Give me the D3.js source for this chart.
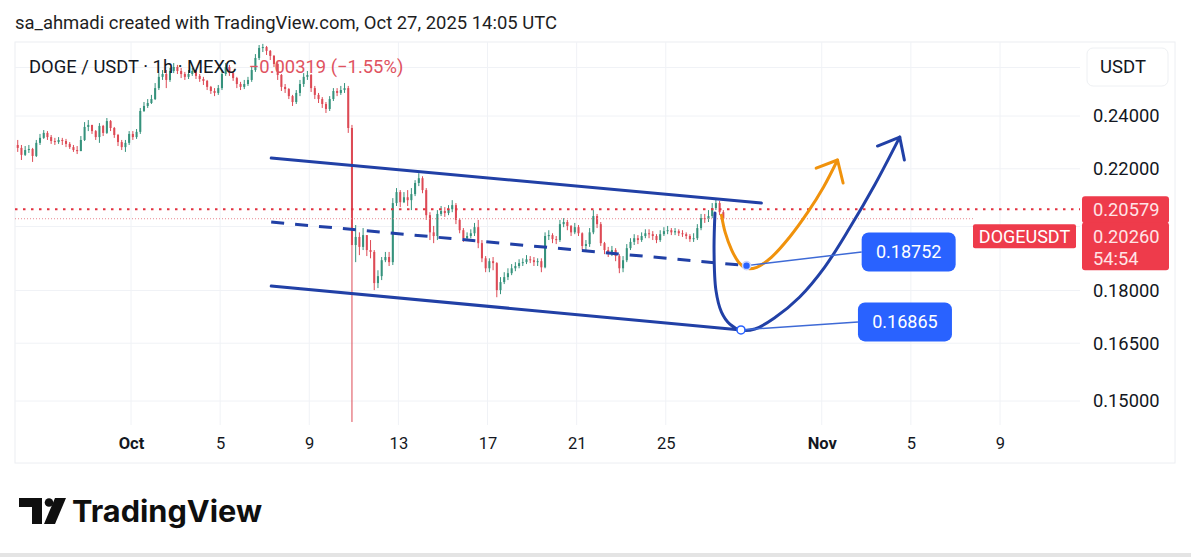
<!DOCTYPE html>
<html>
<head>
<meta charset="utf-8">
<script src="https://cdn.jsdelivr.net/npm/d3@7"></script>
<style>
  body { margin: 0; background: #fff; }
  text { font-family: Roboto, "Noto Sans", sans-serif; }
</style>
</head>
<body>
<svg id="chart"></svg>
<script>
const firstTime = '2025-09-25T20:00:00Z'
const firstOpen = 0.2288
const closes = [
  0.2277,
  0.2251, 0.2269, 0.2273, 0.2247, 0.2296, 0.2315, // Sep 26
  0.2334, 0.2318, 0.2303, 0.2299, 0.2307, 0.2303,
  0.2292, 0.2280, 0.2269, 0.2265, 0.2307, 0.2357,
  0.2365, 0.2341, 0.2318, 0.2361, 0.2334, 0.2380,
  0.2353, 0.2326, 0.2299, 0.2280, 0.2296, 0.2330, // Sep 30
  0.2318, 0.2338, 0.2420, 0.2440, 0.2452, 0.2468, // Oct 1
  0.2513, 0.2560, 0.2572, 0.2547, 0.2585, 0.2602,
  0.2585, 0.2572, 0.2560, 0.2572, 0.2585, 0.2564,
  0.2551, 0.2543, 0.2518, 0.2501, 0.2493, 0.2513,
  0.2572, 0.2602, 0.2576, 0.2555, 0.2530, 0.2518, // Oct 5
  0.2530, 0.2547, 0.2589, 0.2641, 0.2685, 0.2689,
  0.2672, 0.2650, 0.2615, 0.2568, 0.2518, 0.2509,
  0.2480, 0.2456, 0.2493, 0.2530, 0.2560, 0.2568,
  0.2513, 0.2485, 0.2468, 0.2448, 0.2428, 0.2468,
  0.2501, 0.2493, 0.2505, 0.2513, 0.2353, 0.1940, // Oct 10 crash
  0.1966, 0.1934, 0.1972, 0.1924, 0.1918, 0.1822,
  0.1843, 0.1892, 0.1902, 0.1886, 0.2079, 0.2117,
  0.2082, 0.2099, 0.2089, 0.2110, 0.2149, 0.2166,
  0.2124, 0.2038, 0.1981, 0.1969, 0.2042, 0.2052,
  0.2045, 0.2058, 0.2072, 0.2022, 0.1988, 0.1962, // Oct 15
  0.1969, 0.1978, 0.1998, 0.1946, 0.1898, 0.1867,
  0.1889, 0.1883, 0.1801, 0.1825, 0.1840, 0.1852,
  0.1867, 0.1874, 0.1883, 0.1886, 0.1895, 0.1892,
  0.1886, 0.1889, 0.1870, 0.1969, 0.1972, 0.1959,
  0.1956, 0.2008, 0.2015, 0.2002, 0.1981, 0.1998, // Oct 20
  0.1978, 0.1937, 0.1943, 0.1981, 0.2035, 0.2008,
  0.1946, 0.1924, 0.1914, 0.1924, 0.1905, 0.1867,
  0.1892, 0.1930, 0.1950, 0.1962, 0.1956, 0.1969,
  0.1978, 0.1975, 0.1969, 0.1956, 0.1975, 0.1985,
  0.1988, 0.1981, 0.1985, 0.1978, 0.1975, 0.1969, // Oct 25
  0.1959, 0.1962, 0.1995, 0.2028, 0.2025, 0.2035,
  0.2062, 0.2079, 0.2048, 0.2026
]
const highs = [
  0.2307,
  0.2288, 0.2284, 0.2288, 0.2277, 0.2307, 0.2330,
  0.2345, 0.2341, 0.2326, 0.2315, 0.2318, 0.2315,
  0.2311, 0.2299, 0.2288, 0.2284, 0.2322, 0.2376,
  0.2384, 0.2365, 0.2345, 0.2372, 0.2365, 0.2392,
  0.2384, 0.2357, 0.2330, 0.2307, 0.2307, 0.2341,
  0.2341, 0.2349, 0.2432, 0.2456, 0.2468, 0.2485,
  0.2534, 0.2576, 0.2589, 0.2589, 0.2598, 0.2619,
  0.2611, 0.2598, 0.2581, 0.2589, 0.2598, 0.2589,
  0.2572, 0.2560, 0.2547, 0.2522, 0.2513, 0.2526,
  0.2589, 0.2619, 0.2611, 0.2581, 0.2560, 0.2539,
  0.2547, 0.2560, 0.2602, 0.2658, 0.2698, 0.2703,
  0.2694, 0.2676, 0.2654, 0.2623, 0.2572, 0.2530,
  0.2513, 0.2485, 0.2505, 0.2547, 0.2576, 0.2585,
  0.2572, 0.2522, 0.2493, 0.2476, 0.2456, 0.2480,
  0.2513, 0.2513, 0.2522, 0.2534, 0.2522, 0.2365,
  0.2005, 0.1981, 0.1995, 0.1972, 0.1956, 0.1924,
  0.1861, 0.1902, 0.1918, 0.1918, 0.2096, 0.2131,
  0.2124, 0.2117, 0.2124, 0.2131, 0.2159, 0.2184,
  0.2173, 0.2131, 0.2048, 0.2002, 0.2055, 0.2069,
  0.2065, 0.2072, 0.2089, 0.2079, 0.2028, 0.1995,
  0.1981, 0.1991, 0.2012, 0.2022, 0.1956, 0.1905,
  0.1898, 0.1902, 0.1886, 0.1840, 0.1855, 0.1867,
  0.1880, 0.1886, 0.1895, 0.1898, 0.1908, 0.1905,
  0.1902, 0.1898, 0.1898, 0.1981, 0.1988, 0.1978,
  0.1969, 0.2022, 0.2028, 0.2022, 0.2005, 0.2012,
  0.2005, 0.1981, 0.1956, 0.1995, 0.2055, 0.2042,
  0.2015, 0.1950, 0.1934, 0.1937, 0.1930, 0.1911,
  0.1905, 0.1943, 0.1962, 0.1975, 0.1972, 0.1981,
  0.1991, 0.1991, 0.1985, 0.1975, 0.1988, 0.1998,
  0.2002, 0.1995, 0.1995, 0.1991, 0.1988, 0.1981,
  0.1975, 0.1978, 0.2008, 0.2042, 0.2042, 0.2055,
  0.2079, 0.2092, 0.2086, 0.2055
]
const lows = [
  0.2262,
  0.2232, 0.2247, 0.2258, 0.2225, 0.2243, 0.2288,
  0.2311, 0.2307, 0.2292, 0.2288, 0.2292, 0.2288,
  0.2280, 0.2273, 0.2262, 0.2254, 0.2269, 0.2303,
  0.2341, 0.2330, 0.2307, 0.2296, 0.2322, 0.2330,
  0.2341, 0.2315, 0.2284, 0.2269, 0.2262, 0.2288,
  0.2307, 0.2311, 0.2330, 0.2416, 0.2432, 0.2448,
  0.2464, 0.2505, 0.2547, 0.2513, 0.2539, 0.2576,
  0.2572, 0.2555, 0.2547, 0.2551, 0.2564, 0.2551,
  0.2539, 0.2526, 0.2505, 0.2489, 0.2480, 0.2485,
  0.2505, 0.2564, 0.2564, 0.2543, 0.2513, 0.2505,
  0.2509, 0.2522, 0.2539, 0.2581, 0.2632, 0.2667,
  0.2654, 0.2632, 0.2602, 0.2547, 0.2501, 0.2493,
  0.2468, 0.2440, 0.2448, 0.2480, 0.2518, 0.2547,
  0.2497, 0.2468, 0.2452, 0.2432, 0.2412, 0.2420,
  0.2460, 0.2480, 0.2485, 0.2493, 0.2334, 0.1449,
  0.1886, 0.1908, 0.1924, 0.1905, 0.1898, 0.1801,
  0.1807, 0.1831, 0.1886, 0.1874, 0.1877, 0.2069,
  0.2065, 0.2079, 0.2069, 0.2055, 0.2103, 0.2138,
  0.2113, 0.2022, 0.1956, 0.1946, 0.1956, 0.2035,
  0.2032, 0.2038, 0.2048, 0.2008, 0.1978, 0.1950,
  0.1953, 0.1962, 0.1969, 0.1930, 0.1886, 0.1855,
  0.1855, 0.1861, 0.1780, 0.1789, 0.1819, 0.1831,
  0.1846, 0.1858, 0.1867, 0.1874, 0.1880, 0.1883,
  0.1874, 0.1874, 0.1855, 0.1867, 0.1956, 0.1946,
  0.1943, 0.1950, 0.1998, 0.1988, 0.1969, 0.1975,
  0.1969, 0.1924, 0.1924, 0.1934, 0.1975, 0.1995,
  0.1937, 0.1911, 0.1902, 0.1905, 0.1889, 0.1852,
  0.1855, 0.1886, 0.1924, 0.1940, 0.1943, 0.1950,
  0.1962, 0.1962, 0.1956, 0.1946, 0.1950, 0.1969,
  0.1975, 0.1972, 0.1972, 0.1969, 0.1966, 0.1959,
  0.1950, 0.1950, 0.1956, 0.1988, 0.2012, 0.2015,
  0.2028, 0.2055, 0.2038, 0.2022
]

const timeTicks = ['2025-10-01', '2025-10-05', '2025-10-09', '2025-10-13', '2025-10-17', '2025-10-21', '2025-10-25', '2025-11-01', '2025-11-05', '2025-11-09']
const timeTickLabels = ['Oct', '5', '9', '13', '17', '21', '25', 'Nov', '5', '9']
const priceTicks = [0.24, 0.22, 0.18, 0.165, 0.15]
const priceGrid = [0.26, 0.24, 0.22, 0.20, 0.18, 0.165, 0.15]

const headerText = 'sa_ahmadi created with TradingView.com, Oct 27, 2025 14:05 UTC'
const symbolText = 'DOGE / USDT · 1h · MEXC'
const changeText = '\u22120.00319 (\u22121.55%)'
const refPrice = 0.20579
const lastPrice = 0.20260
const countdown = '54:54'

// drawings on the chart: [time, price]
const channelTop = [['2025-10-07T07:00Z', 0.2239], ['2025-10-29T07:00Z', 0.2079]]
const channelBottom = [['2025-10-07T07:00Z', 0.1813], ['2025-10-28T09:00Z', 0.16865]]
const channelMid = [['2025-10-07T07:00Z', 0.2015], ['2025-10-28T15:00Z', 0.18752]]
const orangeRoute = [
  ['2025-10-27T12:00Z', 0.2038], ['2025-10-27T16:00Z', 0.1981], ['2025-10-27T23:00Z', 0.1924],
  ['2025-10-28T06:30Z', 0.1886], ['2025-10-28T15:00Z', 0.1867], ['2025-10-29T02:00Z', 0.1870],
  ['2025-10-29T18:00Z', 0.1902], ['2025-10-30T13:30Z', 0.1966], ['2025-10-31T09:00Z', 0.2048],
  ['2025-11-01T02:00Z', 0.2135], ['2025-11-01T17:00Z', 0.2232]
]
const orangeHead = [['2025-10-31T18:00Z', 0.2202], ['2025-11-01T17:00Z', 0.2232], ['2025-11-01T23:00Z', 0.2149]]
const blueRoute = [
  ['2025-10-27T05:00Z', 0.2045], ['2025-10-27T04:00Z', 0.1924], ['2025-10-27T06:00Z', 0.1801],
  ['2025-10-27T12:00Z', 0.1737], ['2025-10-27T21:00Z', 0.1703], ['2025-10-28T09:00Z', 0.1686],
  ['2025-10-29T00:00Z', 0.1689], ['2025-10-29T21:00Z', 0.1720], ['2025-10-31T00:00Z', 0.1780],
  ['2025-11-01T03:00Z', 0.1870], ['2025-11-02T06:00Z', 0.1995], ['2025-11-03T09:00Z', 0.2142],
  ['2025-11-04T12:00Z', 0.2318]
]
const blueHead = [['2025-11-03T12:00Z', 0.2284], ['2025-11-04T12:00Z', 0.2318], ['2025-11-04T17:00Z', 0.2232]]
const targets = [
  { value: 0.18752, at: ['2025-10-28T15:00Z', 0.18752], box: ['2025-11-02T19:00Z', 0.1918], hollow: false },
  { value: 0.16865, at: ['2025-10-28T09:00Z', 0.16865], box: ['2025-11-02T15:00Z', 0.1709], hollow: true }
]

const W = 1191
const H = 557
const plot = { left: 15, right: 1080, top: 42, bottom: 425 }

const svg = d3.select('#chart').attr('width', W).attr('height', H)
svg.append('rect').attr('width', W).attr('height', H).attr('fill', '#fff')

const x = d3.scaleUtc()
  .domain([new Date('2025-10-01T00:00Z'), new Date('2025-11-09T00:00Z')])
  .range([131, 1000])
const y = d3.scaleLog()
  .domain([0.24, 0.15])
  .range([116, 401])
const px = d => [x(new Date(d[0])), y(d[1])]

// frame + grid
svg.append('rect')
  .attr('x', plot.left).attr('y', plot.top)
  .attr('width', 1175 - plot.left).attr('height', 463 - plot.top)
  .attr('fill', 'none').attr('stroke', '#eceef2')
svg.append('g').selectAll('line')
  .data(timeTicks)
  .join('line')
  .attr('x1', d => x(new Date(d))).attr('x2', d => x(new Date(d)))
  .attr('y1', plot.top).attr('y2', plot.bottom)
  .attr('stroke', '#f0f2f6')
svg.append('g').selectAll('line')
  .data(priceGrid)
  .join('line')
  .attr('x1', plot.left).attr('x2', plot.right)
  .attr('y1', d => y(d)).attr('y2', d => y(d))
  .attr('stroke', '#f0f2f6')

// axes
const xAxis = svg.append('g')
  .attr('transform', `translate(0, ${plot.bottom + 12})`)
  .call(d3.axisBottom(x)
    .tickValues(timeTicks.map(d => new Date(d)))
    .tickFormat((d, i) => timeTickLabels[i])
    .tickSize(0).tickPadding(0))
xAxis.select('.domain').remove()
xAxis.selectAll('text')
  .attr('fill', '#131722')
  .style('font-size', '16.5px')
  .style('font-weight', (d, i) => isNaN(+timeTickLabels[i]) ? 700 : 400)

const yAxis = svg.append('g')
  .attr('transform', `translate(1093, 0)`)
  .call(d3.axisRight(y)
    .tickValues(priceTicks)
    .tickFormat(d3.format('.5f'))
    .tickSize(0).tickPadding(0))
yAxis.select('.domain').remove()
yAxis.selectAll('text').attr('fill', '#131722').style('font-size', '18.3px')

// candles
svg.append('clipPath').attr('id', 'plotClip')
  .append('rect')
  .attr('x', plot.left).attr('y', plot.top)
  .attr('width', plot.right - plot.left).attr('height', plot.bottom - plot.top + 2)

const step = 4 * 3600 * 1000
const t0 = new Date(firstTime).getTime()
const candles = closes.map((c, i) => {
  const o = i === 0 ? firstOpen : closes[i - 1]
  return { t: new Date(t0 + i * step + step / 2), o, c, h: Math.max(highs[i], o, c), l: Math.min(lows[i], o, c) }
})
const bodyW = (x(new Date(t0 + step)) - x(new Date(t0))) * 0.55
const upColor = '#35927c'
const downColor = '#dd4a55'

const candleG = svg.append('g').attr('clip-path', 'url(#plotClip)')
const cg = candleG.selectAll('g').data(candles).join('g')
cg.append('line')
  .attr('x1', d => x(d.t)).attr('x2', d => x(d.t))
  .attr('y1', d => y(d.h)).attr('y2', d => y(d.l))
  .attr('stroke', d => d.c >= d.o ? upColor : downColor)
  .attr('stroke-width', 1)
cg.append('rect')
  .attr('x', d => x(d.t) - bodyW / 2)
  .attr('y', d => y(Math.max(d.o, d.c)))
  .attr('width', bodyW)
  .attr('height', d => Math.max(1, y(Math.min(d.o, d.c)) - y(Math.max(d.o, d.c))))
  .attr('fill', d => d.c >= d.o ? upColor : downColor)

// price lines
svg.append('line')
  .attr('x1', plot.left).attr('x2', plot.right)
  .attr('y1', y(refPrice)).attr('y2', y(refPrice))
  .attr('stroke', '#e2313f').attr('stroke-width', 2.2)
  .attr('stroke-dasharray', '2.5 5.5')
svg.append('line')
  .attr('x1', plot.left).attr('x2', 973)
  .attr('y1', y(lastPrice)).attr('y2', y(lastPrice))
  .attr('stroke', '#e88a92').attr('stroke-width', 1)
  .attr('stroke-dasharray', '1 2')

// channel + forecast drawings
const navy = '#2140a6'
const seg = d3.line()
const curve = d3.line().curve(d3.curveCatmullRom.alpha(0.5))
const drawG = svg.append('g').attr('fill', 'none').attr('stroke-linecap', 'round')
drawG.append('path').attr('d', seg(channelTop.map(px))).attr('stroke', navy).attr('stroke-width', 3)
drawG.append('path').attr('d', seg(channelBottom.map(px))).attr('stroke', navy).attr('stroke-width', 3)
drawG.append('path').attr('d', seg(channelMid.map(px))).attr('stroke', navy).attr('stroke-width', 3)
  .attr('stroke-linecap', 'butt').attr('stroke-dasharray', '13 11')
drawG.append('path').attr('d', curve(orangeRoute.map(px))).attr('stroke', '#f0920c').attr('stroke-width', 3)
drawG.append('path').attr('d', seg(orangeHead.map(px))).attr('stroke', '#f0920c').attr('stroke-width', 3)
  .attr('stroke-linejoin', 'round')
drawG.append('path').attr('d', curve(blueRoute.map(px))).attr('stroke', navy).attr('stroke-width', 3)
drawG.append('path').attr('d', seg(blueHead.map(px))).attr('stroke', navy).attr('stroke-width', 3)
  .attr('stroke-linejoin', 'round')

// target labels
const boxW = 94
const boxH = 39
targets.forEach(t => {
  const [ax, ay] = px(t.at)
  const [bx, by] = px(t.box)
  svg.append('line')
    .attr('x1', ax).attr('y1', ay).attr('x2', bx).attr('y2', by)
    .attr('stroke', '#3e6ad6').attr('stroke-width', 1.5)
  svg.append('circle')
    .attr('cx', ax).attr('cy', ay).attr('r', 4)
    .attr('fill', t.hollow ? '#fff' : '#2962ff')
    .attr('stroke', t.hollow ? '#2962ff' : '#c9d6ff').attr('stroke-width', 1.6)
  svg.append('rect')
    .attr('x', bx).attr('y', by - boxH / 2)
    .attr('width', boxW).attr('height', boxH).attr('rx', 7)
    .attr('fill', '#2962ff')
  svg.append('text')
    .attr('x', bx + boxW / 2).attr('y', by)
    .attr('dy', '0.35em').attr('text-anchor', 'middle')
    .attr('fill', '#fff').style('font-size', '18px')
    .text(d3.format('.5f')(t.value))
})

// price scale labels
const red = '#ee3b4b'
const refY = y(refPrice)
svg.append('rect').attr('x', 1082).attr('y', refY - 13).attr('width', 87).attr('height', 27)
  .attr('rx', 3).attr('fill', red)
svg.append('rect').attr('x', 1082).attr('y', refY + 13).attr('width', 87).attr('height', 48)
  .attr('rx', 3).attr('fill', red)
svg.append('text').attr('x', 1093).attr('y', refY).attr('dy', '0.35em')
  .attr('fill', '#ffe3e6').style('font-size', '18.3px').text(d3.format('.5f')(refPrice))
svg.append('text').attr('x', 1093).attr('y', refY + 27).attr('dy', '0.35em')
  .attr('fill', '#ffe3e6').style('font-size', '18.3px').text(d3.format('.5f')(lastPrice))
svg.append('text').attr('x', 1093).attr('y', refY + 49).attr('dy', '0.35em')
  .attr('fill', '#ffe3e6').style('font-size', '18.3px').text(countdown)
svg.append('rect').attr('x', 973).attr('y', refY + 15).attr('width', 103).attr('height', 24)
  .attr('rx', 2).attr('fill', red)
svg.append('text').attr('x', 1024.5).attr('y', refY + 27).attr('dy', '0.35em')
  .attr('text-anchor', 'middle').attr('fill', '#fff').style('font-size', '18px').text('DOGEUSDT')

// currency badge
svg.append('rect').attr('x', 1087).attr('y', 48).attr('width', 81).attr('height', 38)
  .attr('rx', 6).attr('fill', '#fff').attr('stroke', '#eef0f3')
svg.append('text').attr('x', 1123).attr('y', 67).attr('dy', '0.35em')
  .attr('text-anchor', 'middle').attr('fill', '#131722').style('font-size', '18.5px').text('USDT')

// legend + header
const legend = svg.append('text').attr('x', 29).attr('y', 73).style('font-size', '18.4px')
legend.append('tspan').attr('fill', '#131722').text(symbolText)
legend.append('tspan').attr('dx', 12).attr('fill', '#e0535f').text(changeText)

svg.append('text').attr('x', 15).attr('y', 29)
  .attr('fill', '#1e1e1e').style('font-size', '18.5px')
  .attr('textLength', 542).attr('lengthAdjust', 'spacingAndGlyphs')
  .text(headerText)

// TradingView wordmark
const logo = svg.append('g').attr('fill', '#0f0f0f')
logo.append('path').attr('d', 'M19,498 H42 V524 H32 V507 H19 Z')
logo.append('circle').attr('cx', 49).attr('cy', 502.5).attr('r', 4.3)
logo.append('path').attr('d', 'M55,498 H66 L55,524 H44 Z')
svg.append('text').attr('x', 72).attr('y', 522)
  .attr('fill', '#0f0f0f')
  .style('font-family', 'Inter, Roboto, sans-serif')
  .style('font-size', '30px').style('font-weight', 700)
  .attr('textLength', 190).attr('lengthAdjust', 'spacingAndGlyphs')
  .text('TradingView')

svg.append('rect').attr('x', 0).attr('y', 553).attr('width', W).attr('height', 4).attr('fill', '#e4e4e4')
</script>
</body>
</html>
